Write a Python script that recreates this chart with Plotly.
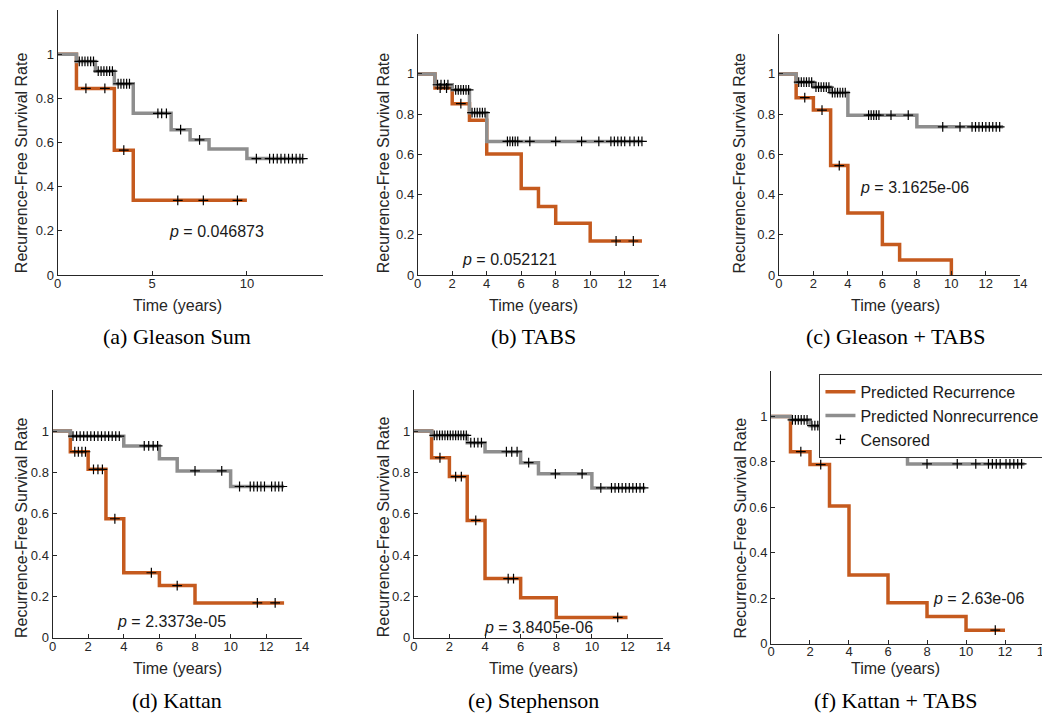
import plotly.graph_objects as go
from plotly.subplots import make_subplots

ORANGE = "#C55A1E"
GRAY = "#8E8E8E"
AXC = "#262626"
SANS = "Liberation Sans, Arial, sans-serif"
SERIF = "Liberation Serif, Times New Roman, serif"

# ---- (a) Gleason Sum ----
a_rec_t = [0, 1, 3, 4, 10]
a_rec_s = [1, 0.845, 0.565, 0.338, 0.338]
a_rec_c = [1.5, 2.5, 3.5, 6.35, 7.7, 9.5]
a_non_t = [0, 1, 2, 3, 4, 6, 7, 8, 10, 12.95]
a_non_s = [1, 0.967, 0.923, 0.866, 0.732, 0.658, 0.612, 0.57, 0.527, 0.527]
a_non_c = [1.15, 1.3, 1.45, 1.6, 1.75, 1.9, 2.15, 2.3, 2.45, 2.6, 2.75, 2.9,
           3.2, 3.35, 3.5, 3.65, 3.8, 5.3, 5.5, 5.75, 6.5, 7.5, 10.5,
           11.2, 11.4, 11.6, 11.8, 12.0, 12.2, 12.4, 12.6, 12.8, 12.95]

# ---- (b) TABS ----
b_rec_t = [0, 1, 2, 3, 4, 6, 7, 8, 10, 13]
b_rec_s = [1, 0.93, 0.852, 0.77, 0.602, 0.43, 0.341, 0.257, 0.169, 0.169]
b_rec_c = [1.3, 1.67, 2.5, 11.5, 12.5]
b_non_t = [0, 1, 2, 3, 4, 13]
b_non_s = [1, 0.946, 0.921, 0.807, 0.664, 0.664]
b_non_c = [1.15, 1.35, 1.55, 1.75, 2.2, 2.35, 2.5, 2.65, 2.8, 2.95,
           3.15, 3.3, 3.45, 3.6, 3.75, 3.9, 5.2, 5.35, 5.5, 5.65, 5.8,
           6.5, 8.0, 9.5, 10.5, 11.2, 11.4, 11.6, 11.8, 12.0, 12.3, 12.55, 12.8, 13.0]

# ---- (c) Gleason + TABS ----
c_rec_t = [0, 1, 2, 3, 4, 6, 7, 10]
c_rec_s = [1, 0.882, 0.82, 0.544, 0.308, 0.152, 0.074, 0]
c_rec_c = [1.5, 2.5, 3.5]
c_non_t = [0, 1, 2, 3, 4, 8, 13]
c_non_s = [1, 0.959, 0.934, 0.907, 0.795, 0.737, 0.737]
c_non_c = [1.15, 1.3, 1.45, 1.6, 1.75, 1.9, 2.15, 2.3, 2.45, 2.6, 2.75, 2.9,
           3.1, 3.25, 3.4, 3.55, 3.7, 3.85, 5.2, 5.35, 5.5, 5.65, 5.8, 6.5, 7.5,
           9.5, 10.5, 11.2, 11.4, 11.6, 11.8, 12.0, 12.2, 12.4, 12.6, 12.8]

# ---- (d) Kattan ----
d_rec_t = [0, 1, 2, 3, 4, 6, 8, 13]
d_rec_s = [1, 0.9, 0.815, 0.576, 0.315, 0.253, 0.169, 0.169]
d_rec_c = [1.25, 1.45, 1.65, 1.85, 2.3, 2.55, 2.8, 3.5, 5.55, 7.0, 11.5, 12.5]
d_non_t = [0, 1, 4, 6, 7, 10, 13]
d_non_s = [1, 0.975, 0.928, 0.866, 0.807, 0.732, 0.732]
d_non_c = [1.15, 1.35, 1.55, 1.75, 1.95, 2.15, 2.35, 2.55, 2.75, 2.95, 3.15,
           3.35, 3.55, 3.75, 5.15, 5.4, 5.65, 5.9, 8.0, 9.5, 10.5,
           11.1, 11.3, 11.5, 11.7, 11.9, 12.3, 12.5, 12.7, 12.9]

# ---- (e) Stephenson ----
e_rec_t = [0, 1, 2, 3, 4, 6, 8, 12]
e_rec_s = [1, 0.871, 0.78, 0.568, 0.287, 0.194, 0.099, 0.099]
e_rec_c = [1.47, 2.35, 2.67, 3.48, 5.3, 5.6, 11.45]
e_non_t = [0, 1, 3, 4, 6, 7, 10, 13]
e_non_s = [1, 0.979, 0.944, 0.9, 0.847, 0.793, 0.725, 0.725]
e_non_c = [1.15, 1.3, 1.45, 1.6, 1.75, 1.9, 2.05, 2.2, 2.35, 2.5, 2.65, 2.8, 2.95,
           3.2, 3.4, 3.6, 3.8, 5.2, 5.5, 5.8, 6.45, 7.95, 9.45, 10.5,
           11.1, 11.3, 11.5, 11.7, 11.9, 12.1, 12.3, 12.5, 12.7, 12.9]

# ---- (f) Kattan + TABS ----
f_rec_t = [0, 1, 2, 3, 4, 6, 8, 10, 12]
f_rec_s = [1, 0.845, 0.788, 0.606, 0.302, 0.181, 0.12, 0.06, 0.06]
f_rec_c = [1.53, 2.55, 11.5]
f_non_t = [0, 1, 2, 3, 4, 7, 13]
f_non_s = [1, 0.985, 0.959, 0.893, 0.854, 0.791, 0.791]
f_non_c = [1.1, 1.25, 1.4, 1.55, 1.7, 1.85, 2.1, 2.25, 2.4, 2.55, 2.7, 2.85,
           3.05, 3.2, 3.35, 3.5, 3.65, 3.8, 5.1, 5.3, 5.5, 5.7, 6.5, 8.0, 9.55,
           10.5, 11.15, 11.35, 11.55, 11.75, 12.05, 12.25, 12.45, 12.65, 12.85]

captions = ["(a) Gleason Sum", "(b) TABS", "(c) Gleason + TABS",
            "(d) Kattan", "(e) Stephenson", "(f) Kattan + TABS"]
p_values = ["0.046873", "0.052121", "3.1625e-06", "2.3373e-05", "3.8405e-06", "2.63e-06"]
p_pos = [(8.4, 0.196), (5.3, 0.079), (7.86, 0.433), (6.67, 0.081), (7.0, 0.048), (10.66, 0.2)]

curves = [
    (a_rec_t, a_rec_s, a_rec_c, a_non_t, a_non_s, a_non_c),
    (b_rec_t, b_rec_s, b_rec_c, b_non_t, b_non_s, b_non_c),
    (c_rec_t, c_rec_s, c_rec_c, c_non_t, c_non_s, c_non_c),
    (d_rec_t, d_rec_s, d_rec_c, d_non_t, d_non_s, d_non_c),
    (e_rec_t, e_rec_s, e_rec_c, e_non_t, e_non_s, e_non_c),
    (f_rec_t, f_rec_s, f_rec_c, f_non_t, f_non_s, f_non_c),
]

# plot-area positions in paper coordinates (x0, x1, y0, y1)
domains = [
    (0.0438, 0.2990, 0.6229, 0.9972),
    (0.3905, 0.6229, 0.6229, 0.9637),
    (0.7381, 0.9705, 0.6229, 0.9637),
    (0.0390, 0.2790, 0.1103, 0.4609),
    (0.3867, 0.6267, 0.1103, 0.4609),
    (0.7305, 0.9933, 0.1020, 0.4874),
]
# pixel centres of y titles / x titles / captions
ytitle_pos = [(9, 156), (375, 157), (735, 157), (9, 525), (375, 525), (736, 526)]
xcenters = [167, 527, 893]
row_text_y = [(301, 332), (668, 700)]


def surv_at(ts, ss, c):
    v = ss[0]
    for t, s in zip(ts, ss):
        if t <= c:
            v = s
    return v


fig = make_subplots(rows=2, cols=3)
W, H = 1050, 716

for i, (rt, rs, rc, nt, ns, nc) in enumerate(curves):
    row, col = i // 3 + 1, i % 3 + 1
    first = i == 5
    fig.add_trace(go.Scatter(x=rt, y=rs, mode="lines", line=dict(color=ORANGE, width=3.5, shape="hv"),
                             name="Predicted Recurrence", showlegend=first, hoverinfo="skip"),
                  row=row, col=col)
    fig.add_trace(go.Scatter(x=nt, y=ns, mode="lines", line=dict(color=GRAY, width=3.5, shape="hv"),
                             name="Predicted Nonrecurrence", showlegend=first, hoverinfo="skip"),
                  row=row, col=col)
    cx = rc + nc
    cy = [surv_at(rt, rs, c) for c in rc] + [surv_at(nt, ns, c) for c in nc]
    fig.add_trace(go.Scatter(x=cx, y=cy, mode="markers",
                             marker=dict(symbol="cross-thin", size=7, line=dict(color="black", width=1.2)),
                             name="Censored", showlegend=first, hoverinfo="skip"),
                  row=row, col=col)

    n = "" if i == 0 else str(i + 1)
    x0, x1, y0, y1 = domains[i]
    xax = dict(domain=[x0, x1], range=[0, 14], showline=True, linecolor=AXC, linewidth=1,
               ticks="inside", ticklen=4, tickcolor=AXC, showgrid=False, zeroline=False,
               ticklabelstandoff=-4,
               tickfont=dict(family=SANS, size=13, color=AXC))
    if i == 0:
        xax["tickvals"] = [0, 5, 10]
    else:
        xax["tickvals"] = [0, 2, 4, 6, 8, 10, 12, 14]
    yax = dict(domain=[y0, y1], range=[0, 1.2], showline=True, linecolor=AXC, linewidth=1,
               ticks="inside", ticklen=4, tickcolor=AXC, showgrid=False, zeroline=False,
               tickvals=[0, 0.2, 0.4, 0.6, 0.8, 1], ticktext=["0", "0.2", "0.4", "0.6", "0.8", "1"],
               tickfont=dict(family=SANS, size=13, color=AXC))
    fig.layout["xaxis" + n].update(xax)
    fig.layout["yaxis" + n].update(yax)

    # p-value
    px, py = p_pos[i]
    fig.add_annotation(x=px, y=py, xref="x" + n, yref="y" + n, text="<i>p</i> = " + p_values[i],
                       showarrow=False, font=dict(family=SANS, size=16, color="#1a1a1a"),
                       xanchor="center", yanchor="middle")
    # y title
    tx, ty = ytitle_pos[i]
    fig.add_annotation(x=tx / W, y=1 - ty / H, xref="paper", yref="paper",
                       text="Recurrence-Free Survival Rate", textangle=-90, showarrow=False,
                       font=dict(family=SANS, size=16, color=AXC), xanchor="center", yanchor="middle")
    # x title and caption
    ry_t, ry_c = row_text_y[row - 1]
    xc = xcenters[col - 1]
    fig.add_annotation(x=xc / W, y=1 - ry_t / H, xref="paper", yref="paper", text="Time (years)",
                       showarrow=False, font=dict(family=SANS, size=16, color=AXC),
                       xanchor="center", yanchor="middle")
    fig.add_annotation(x=xc / W, y=1 - ry_c / H, xref="paper", yref="paper", text=captions[i],
                       showarrow=False, font=dict(family=SERIF, size=22, color="black"),
                       xanchor="center", yanchor="middle")

fig.update_layout(
    width=W, height=H,
    margin=dict(l=0, r=0, t=0, b=0),
    plot_bgcolor="white", paper_bgcolor="white",
    legend=dict(x=816 / W, y=1 - 370 / H, xanchor="left", yanchor="top",
                bgcolor="white", bordercolor="#333333", borderwidth=1,
                font=dict(family=SANS, size=16, color="#1a1a1a"),
                itemwidth=30, tracegroupgap=0),
)

fig.write_html("out.html")
